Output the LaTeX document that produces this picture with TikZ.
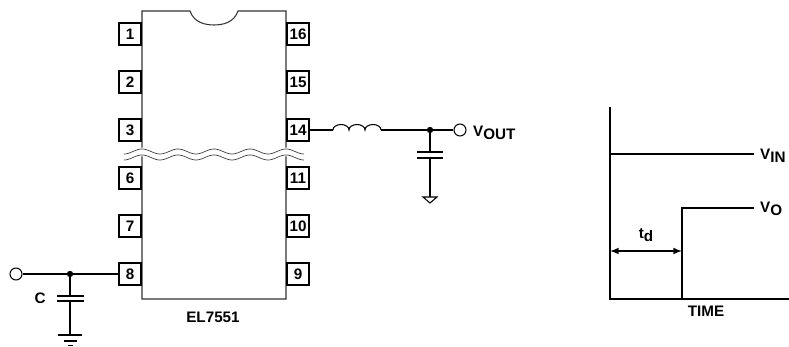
\documentclass[tikz,border=0pt]{standalone}
\usepackage{fontspec}
\setmainfont{Liberation Sans}
\newcommand{\subtxt}[1]{\raisebox{-2.5pt}{#1}}
\begin{document}
\begin{tikzpicture}[
    x=0.03cm, y=0.03cm,
    every node/.style={font=\fontsize{13}{15}\selectfont\bfseries, inner sep=0pt},
    pinbox/.style={draw, line width=1.7pt, fill=white, minimum size=0.68cm},
    chipline/.style={draw, line width=0.9pt, black!80},
    wire/.style={line width=1.5pt},
    plate/.style={line width=2.1pt},
    terminal/.style={circle, draw, line width=0.9pt, fill=white, minimum size=0.36cm},
    junction/.style={circle, fill=black, minimum size=0.19cm},
    wavy/.style={line width=0.6pt, black!75},
]
\useasboundingbox (0,0) rectangle (789,347);
% Cuerpo del chip
\coordinate (chipNW) at (142,336);
\coordinate (chipNE) at (286,336);
\coordinate (chipSE) at (286,48);
\coordinate (chipSW) at (142,48);
\draw[chipline] (chipNW) -- (190,336) .. controls (194,324) and (206,322) .. (214,322)
    .. controls (222,322) and (234,324) .. (238,336) -- (chipNE) -- (chipSE) -- (chipSW) -- cycle;
% Corte
\draw[white, line width=7.5pt] plot[domain=124:304, samples=90] (\x, {192.5+2.5*cos(10*(\x-142))});
\foreach \off in {0,-6}
    \draw[wavy] plot[domain=124:304, samples=90] (\x, {195.5+\off+2.5*cos(10*(\x-142))});
% Pines
\foreach \num/\posy in {1/313, 2/265, 3/217, 6/169, 7/121, 8/73}
    \node[pinbox] (pin\num) at (130,\posy) {\num};
\foreach \num/\posy in {16/313, 15/265, 14/217, 11/169, 10/121, 9/73}
    \node[pinbox] (pin\num) at (298,\posy) {\num};
\node (chipName) at (213,30) {EL7551};
% Entrada
\node[terminal] (entrada) at (16,73) {};
\node[junction] (nodoC) at (70,73) {};
\coordinate (capSup) at (70,51);
\coordinate (capInf) at (70,46);
\coordinate (tierra) at (70,12);
\draw[wire] (entrada) -- (nodoC) -- (pin8);
\draw[wire] (nodoC) -- (capSup);
\draw[wire] (capInf) -- (tierra);
\draw[plate] (57,51) -- (84,51);
\draw[plate] (57,46) -- (84,46);
\draw[wire] (58,12) -- (82,12);
\draw[wire] (64,6) -- (77,6);
\draw[wire] (68,1.5) -- (73,1.5);
\node (labelC) at (40,49) {C};
% Salida
\coordinate (bobinaIni) at (333,217);
\coordinate (bobinaFin) at (381,217);
\node[junction] (nodoL) at (430,217) {};
\node[terminal] (salida) at (460,217) {};
\node[anchor=west] (labelOut) at (473,214) {V\subtxt{OUT}};
\coordinate (capSup2) at (430,195);
\coordinate (capInf2) at (430,189);
\coordinate (tierra2) at (430,150);
\draw[wire] (pin14) -- (bobinaIni);
\draw[line width=0.9pt] (bobinaIni) arc[start angle=180, end angle=0, x radius=8, y radius=5.5]
    arc[start angle=180, end angle=0, x radius=8, y radius=5.5]
    arc[start angle=180, end angle=0, x radius=8, y radius=5.5];
\draw[wire] (bobinaFin) -- (nodoL) -- (salida);
\draw[wire] (nodoL) -- (capSup2);
\draw[wire] (capInf2) -- (tierra2);
\draw[plate] (417,195) -- (443,195);
\draw[plate] (417,189) -- (443,189);
\draw[line width=0.9pt] (423,150) -- (437,150) -- (430,144) -- cycle;
% Grafica
\coordinate (ejeTop) at (610,240);
\coordinate (origen) at (610,48);
\coordinate (ejeFin) at (789,48);
\coordinate (vinIni) at (610,193);
\coordinate (vinFin) at (754,193);
\coordinate (escalon) at (682,48);
\coordinate (voEsq) at (682,139);
\coordinate (voFin) at (754,139);
\draw[wire] (ejeTop) -- (origen) -- (ejeFin);
\draw[wire] (vinIni) -- (vinFin);
\draw[wire] (escalon) -- (voEsq) -- (voFin);
\node[anchor=west] (labelVin) at (760,191) {V\subtxt{IN}};
\node[anchor=west] (labelVo) at (760,138) {V\subtxt{O}};
\coordinate (tdIni) at (610,96);
\coordinate (tdFin) at (682,96);
\draw[latex-latex, wire] (tdIni) -- (tdFin);
\node (labelTd) at (646,112) {t\subtxt{d}};
\node (labelTime) at (706,36) {TIME};
\end{tikzpicture}
\end{document}
